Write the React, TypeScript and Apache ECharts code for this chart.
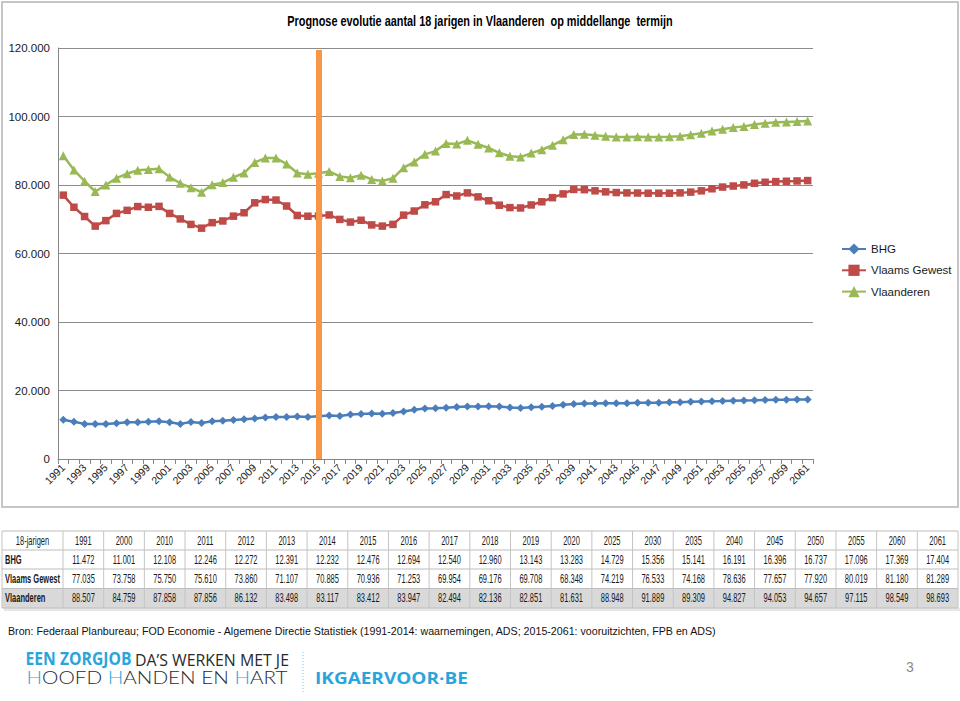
import React, { useEffect, useRef } from "react";
import * as echarts from "echarts";

// ---------- DATA ----------
const years: string[] = [];
for (let y = 1991; y <= 2061; y++) years.push(String(y));

const seriesNames = ["BHG", "Vlaams Gewest", "Vlaanderen"];

const bhg = [
  11472, 10900, 10250, 10200, 10200, 10450, 10700, 10700, 10900, 11001,
  10700, 10250, 10800, 10500, 11000, 11200, 11400, 11600, 11850, 12108,
  12246, 12272, 12391, 12232, 12476, 12694, 12540, 12960, 13143, 13283,
  13200, 13450, 13850, 14350, 14729, 14800, 14950, 15150, 15350, 15356,
  15400, 15300, 15050, 14900, 15141, 15250, 15450, 15850, 16050, 16191,
  16200, 16250, 16250, 16300, 16396, 16420, 16450, 16550, 16600, 16737,
  16800, 16850, 16900, 17000, 17096, 17150, 17250, 17300, 17330, 17369,
  17404,
];

const vlaamsGewest = [
  77035, 73500, 70800, 68000, 69600, 71700, 72600, 73700, 73500, 73758,
  71700, 70100, 68500, 67400, 69000, 69500, 70900, 71900, 74800, 75750,
  75610, 73860, 71107, 70885, 70936, 71253, 69954, 69176, 69708, 68348,
  68000, 68500, 71200, 72400, 74219, 75100, 77200, 76800, 77700, 76533,
  75400, 74100, 73400, 73300, 74168, 75100, 76300, 77400, 78700, 78636,
  78300, 78000, 77800, 77700, 77657, 77600, 77600, 77600, 77700, 77920,
  78300, 78900, 79400, 79700, 80019, 80500, 80800, 81000, 81100, 81180,
  81289,
];

const vlaanderen = [
  88507, 84400, 81100, 78100, 80000, 82000, 83300, 84300, 84500, 84759,
  82300, 80500, 79200, 77900, 80100, 80700, 82250, 83500, 86600, 87858,
  87856, 86132, 83498, 83117, 83412, 83947, 82494, 82136, 82851, 81631,
  81200, 81950, 85050, 86700, 88948, 89900, 92150, 91950, 93050, 91889,
  90800, 89400, 88400, 88150, 89309, 90300, 91600, 93200, 94750, 94827,
  94500, 94250, 94050, 94000, 94053, 94020, 94050, 94100, 94250, 94657,
  95100, 95750, 96300, 96800, 97115, 97650, 98050, 98300, 98430, 98549,
  98693,
];

const tableYears = [
  "1991", "2000", "2010", "2011", "2012", "2013", "2014", "2015", "2016",
  "2017", "2018", "2019", "2020", "2025", "2030", "2035", "2040", "2045",
  "2050", "2055", "2060", "2061",
];

const projectionStart = "2015";
const titleText =
  "Prognose evolutie aantal 18 jarigen in Vlaanderen  op middellange  termijn";
const tableCorner = "18-jarigen";
const sourceText =
  "Bron: Federaal Planbureau; FOD Economie - Algemene Directie Statistiek (1991-2014: waarnemingen, ADS; 2015-2061: vooruitzichten, FPB en ADS)";
const logoLine1a = "EEN ZORGJOB";
const logoLine1b = "DA\u2019S WERKEN MET JE";
const logoLine2 = ["H", "OOFD ", "H", "ANDEN EN ", "H", "ART"];
const logoSite = "IKGAERVOOR\u00B7BE";
const pageNumber = "3";

// ---------- HELPERS ----------
const FONT = "'Liberation Sans', Arial, sans-serif";
const BLUE = "#2aa5dc";
const DARK = "#2a2a2a";

function fmtNum(v: number): string {
  if (v === 0) return "0";
  const t = Math.floor(v / 1000);
  const r = Math.round(v % 1000);
  return t + "." + String(r).padStart(3, "0");
}

let ctx: CanvasRenderingContext2D | null = null;
function textW(text: string, font: string): number {
  if (!ctx) ctx = document.createElement("canvas").getContext("2d");
  if (!ctx) return text.length * 6;
  ctx.font = font;
  return ctx.measureText(text).width;
}

function txt(
  text: string,
  x: number,
  y: number,
  opts: {
    size: number;
    family?: string;
    weight?: string | number;
    color?: string;
    align?: string;
    scaleX?: number;
  }
) {
  const align = opts.align || "left";
  return {
    type: "text",
    x,
    y,
    scaleX: opts.scaleX ?? 1,
    silent: true,
    style: {
      text,
      fontSize: opts.size,
      fontFamily: opts.family || FONT,
      fontWeight: opts.weight || "normal",
      fill: opts.color || "#000",
      textAlign: align,
      align,
      textVerticalAlign: "middle",
      verticalAlign: "middle",
    },
  };
}

function fitScale(text: string, font: string, target: number) {
  const w = textW(text, font);
  return w > 0 ? target / w : 1;
}

function buildGraphics() {
  const els: any[] = [];

  // chart frame
  els.push({
    type: "rect",
    shape: { x: 2, y: 2, width: 956, height: 505 },
    style: { fill: "none", stroke: "#c6c6c6", lineWidth: 2 },
    silent: true,
  });

  // title
  {
    const font = `bold 14px ${FONT}`;
    const s = fitScale(titleText, font, 386);
    els.push(
      txt(titleText, 480, 21.5, { size: 14, weight: "bold", scaleX: s, align: "center" })
    );
  }

  // ---------- table ----------
  const tLeft = 2;
  const tRight = 958;
  const firstW = 61;
  const colW = (tRight - tLeft - firstW) / tableYears.length;
  const rowYs = [531, 550, 569, 588.5, 608];
  els.push({
    type: "rect",
    shape: { x: tLeft, y: rowYs[3], width: tRight - tLeft, height: rowYs[4] - rowYs[3] },
    style: { fill: "#d9d9d9" },
    silent: true,
  });
  els.push({
    type: "rect",
    shape: { x: tLeft + 2, y: rowYs[4], width: tRight - tLeft, height: 3 },
    style: { fill: "#e6e6e6" },
    silent: true,
  });
  rowYs.forEach((y) => {
    els.push({
      type: "line",
      shape: { x1: tLeft, y1: y, x2: tRight, y2: y },
      style: { stroke: "#bdbdbd", lineWidth: 1 },
      silent: true,
    });
  });
  const vxs = [tLeft, tLeft + firstW];
  for (let i = 1; i <= tableYears.length; i++) vxs.push(tLeft + firstW + i * colW);
  vxs.forEach((x) => {
    els.push({
      type: "line",
      shape: { x1: x, y1: rowYs[0], x2: x, y2: rowYs[4] },
      style: { stroke: "#c4c4c4", lineWidth: 1 },
      silent: true,
    });
  });
  const TS = 0.6;
  const tSize = 12.5;
  const rowMid = (r: number) => (rowYs[r] + rowYs[r + 1]) / 2;
  els.push(
    txt(tableCorner, tLeft + firstW / 2, rowMid(0), { size: tSize, scaleX: TS, align: "center", color: "#1a1a1a" })
  );
  tableYears.forEach((yr, i) => {
    const cx = tLeft + firstW + (i + 0.5) * colW;
    els.push(txt(yr, cx, rowMid(0), { size: tSize, scaleX: TS, align: "center", color: "#1a1a1a" }));
  });
  const allSeries = [bhg, vlaamsGewest, vlaanderen];
  allSeries.forEach((arr, r) => {
    els.push(
      txt(seriesNames[r], tLeft + 3, rowMid(r + 1), {
        size: tSize,
        scaleX: TS,
        weight: "bold",
        color: "#1a1a1a",
      })
    );
    tableYears.forEach((yr, i) => {
      const idx = years.indexOf(yr);
      const cx = tLeft + firstW + (i + 0.5) * colW;
      els.push(
        txt(fmtNum(arr[idx]), cx, rowMid(r + 1), {
          size: tSize,
          scaleX: TS,
          align: "center",
          color: "#1a1a1a",
        })
      );
    });
  });

  // source line
  {
    const font = `11px ${FONT}`;
    const s = fitScale(sourceText, font, 710);
    els.push(txt(sourceText, 8, 631, { size: 11, scaleX: s, color: "#111" }));
  }

  // logo line 1
  {
    const fam = "'Open Sans', 'Liberation Sans', sans-serif";
    const fontA = `bold 17px ${fam}`;
    const sA = fitScale(logoLine1a, fontA, 106);
    els.push(txt(logoLine1a, 25.5, 659, { size: 17, family: fam, weight: "bold", color: BLUE, scaleX: sA }));
    const fontB = `17px ${fam}`;
    const sB = fitScale(logoLine1b, fontB, 154);
    els.push(txt(logoLine1b, 135, 659, { size: 17, family: fam, color: DARK, scaleX: sB }));
  }
  // logo line 2
  {
    const fam = "Lato, 'Open Sans', sans-serif";
    const font = `300 18px ${fam}`;
    const full = logoLine2.join("");
    const s = fitScale(full, font, 261);
    let cx = 26.5;
    logoLine2.forEach((piece, i) => {
      els.push(
        txt(piece.trim(), cx, 677, {
          size: 18,
          family: fam,
          weight: 300,
          color: i % 2 === 0 ? BLUE : DARK,
          scaleX: s,
        })
      );
      cx += textW(piece, font) * s;
    });
  }
  // separator
  els.push({
    type: "line",
    shape: { x1: 303, y1: 652, x2: 303, y2: 694 },
    style: { stroke: "#7cc4e6", lineWidth: 1, lineDash: [1, 2] },
    silent: true,
  });
  // site
  {
    const fam = "'Open Sans', 'Liberation Sans', sans-serif";
    const font = `bold 16px ${fam}`;
    const s = fitScale(logoSite, font, 153);
    els.push(txt(logoSite, 315, 677.5, { size: 16, family: fam, weight: "bold", color: BLUE, scaleX: s }));
  }
  // page number
  els.push(txt(pageNumber, 910, 667, { size: 14, color: "#8a8a8a", align: "center" }));

  return els;
}

export default function App() {
  const ref = useRef<HTMLDivElement>(null);

  useEffect(() => {
    if (!ref.current) return;
    const chart = echarts.init(ref.current, undefined, { renderer: "svg" });
    const lineW = 2.5;
    const option: any = {
      animation: false,
      backgroundColor: "#ffffff",
      grid: { left: 58, top: 48, width: 755, height: 411, containLabel: false },
      legend: {
        orient: "vertical",
        left: 836,
        top: 238,
        itemWidth: 24,
        itemHeight: 14,
        itemGap: 9.3,
        data: seriesNames,
        textStyle: { fontSize: 11.5, fontFamily: FONT, color: "#1a1a1a" },
      },
      xAxis: {
        type: "category",
        data: years,
        boundaryGap: true,
        axisLine: { show: true, lineStyle: { color: "#868686", width: 1 } },
        axisTick: { show: true, interval: 0, length: 5, lineStyle: { color: "#868686" } },
        axisLabel: {
          interval: 1,
          rotate: 45,
          fontSize: 10.5,
          fontFamily: FONT,
          color: "#1a1a1a",
          margin: 7,
        },
        splitLine: { show: false },
      },
      yAxis: {
        type: "value",
        min: 0,
        max: 120000,
        interval: 20000,
        axisLine: { show: true, lineStyle: { color: "#868686", width: 1 } },
        axisTick: { show: false },
        axisLabel: {
          formatter: (v: number) => fmtNum(v),
          fontSize: 11.5,
          fontFamily: FONT,
          color: "#1a1a1a",
          margin: 8,
        },
        splitLine: { show: true, lineStyle: { color: "#8c8c8c", width: 1 } },
      },
      series: [
        {
          name: seriesNames[0],
          type: "line",
          data: bhg,
          symbol: "diamond",
          symbolSize: 8,
          showAllSymbol: true,
          color: "#4a7ebb",
          lineStyle: { width: lineW, color: "#4a7ebb" },
          itemStyle: { color: "#4a7ebb" },
        },
        {
          name: seriesNames[1],
          type: "line",
          data: vlaamsGewest,
          symbol: "rect",
          symbolSize: 7.5,
          showAllSymbol: true,
          color: "#be4b48",
          lineStyle: { width: lineW, color: "#be4b48" },
          itemStyle: { color: "#be4b48" },
        },
        {
          name: seriesNames[2],
          type: "line",
          data: vlaanderen,
          symbol: "triangle",
          symbolSize: 9,
          showAllSymbol: true,
          color: "#98b954",
          lineStyle: { width: lineW, color: "#98b954" },
          itemStyle: { color: "#98b954" },
          markLine: {
            silent: true,
            symbol: ["none", "none"],
            label: { show: false },
            lineStyle: { color: "#f79646", width: 6, type: "solid" },
            data: [
              [
                { coord: [projectionStart, 119400] },
                { coord: [projectionStart, 0] },
              ],
            ],
          },
        },
      ],
      graphic: { elements: buildGraphics() },
    };
    chart.setOption(option);
    return () => chart.dispose();
  }, []);

  return (
    <div
      ref={ref}
      style={{ position: "absolute", left: 0, top: 0, width: 960, height: 701, background: "#fff" }}
    />
  );
}
